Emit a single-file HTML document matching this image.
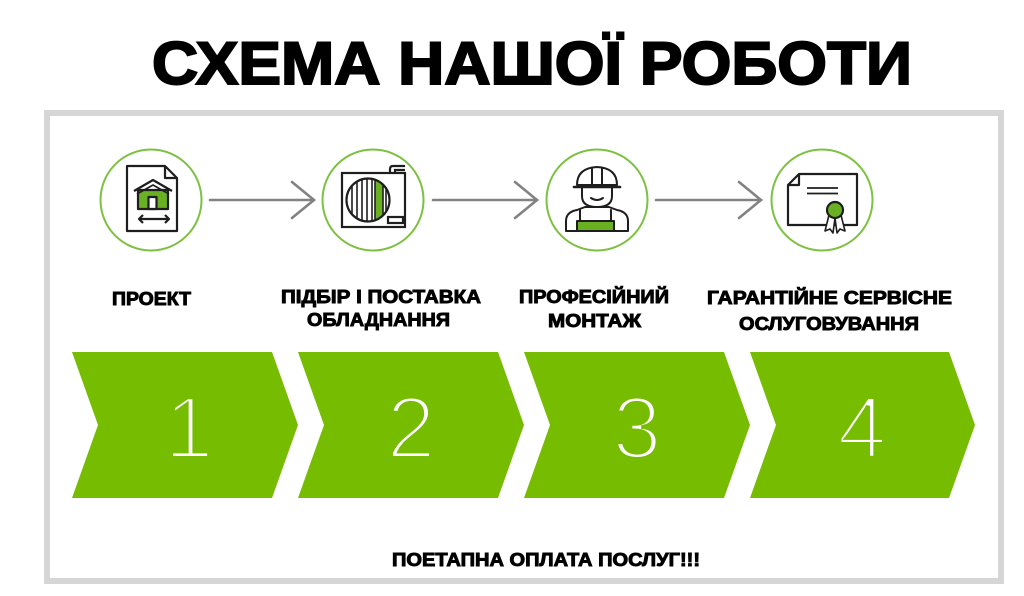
<!DOCTYPE html>
<html>
<head>
<meta charset="utf-8">
<style>
  html,body{margin:0;padding:0;background:#fff;}
  body{width:1024px;height:596px;overflow:hidden;}
  svg{display:block;}
  .t{font-family:"Liberation Sans","DejaVu Sans",sans-serif;font-weight:bold;fill:#000;}
</style>
</head>
<body>
<svg width="1024" height="596" viewBox="0 0 1024 596" xmlns="http://www.w3.org/2000/svg">
  <rect x="0" y="0" width="1024" height="596" fill="#fff"/>

  <!-- Title -->
  <text class="t" x="152" y="84" font-size="60" textLength="760" lengthAdjust="spacingAndGlyphs" stroke="#000" stroke-width="2">СХЕМА НАШОЇ РОБОТИ</text>

  <!-- Frame -->
  <rect x="47" y="113" width="954" height="468" fill="none" stroke="#d6d6d6" stroke-width="6"/>

  <!-- Circles -->
  <g fill="#fff" stroke="#7cc142" stroke-width="2">
    <circle cx="151" cy="200" r="50.5"/>
    <circle cx="373" cy="200" r="50.5"/>
    <circle cx="597" cy="200" r="50.5"/>
    <circle cx="822" cy="200" r="50.5"/>
  </g>

  <!-- Arrows -->
  <g fill="none" stroke="#828282" stroke-width="2.6" stroke-linecap="round">
    <line x1="210" y1="200" x2="314" y2="200"/>
    <polyline points="292,182 314,200 292,218"/>
    <line x1="433" y1="200" x2="537" y2="200"/>
    <polyline points="515,182 537,200 515,218"/>
    <line x1="656" y1="200" x2="761" y2="200"/>
    <polyline points="739,182 761,200 739,218"/>
  </g>

  <!-- Icon 1: document with house -->
  <g stroke="#1e1e1e" stroke-width="2.2" fill="none" stroke-linejoin="round">
    <path d="M127,166 H165 L177,178 V231 H127 Z" fill="#fff"/>
    <path d="M165,166 V178 H177"/>
    <rect x="138" y="190" width="30" height="19" fill="#6ab023"/>
    <rect x="148.5" y="197" width="8" height="12" fill="#fff"/>
    <path d="M134,191 L153,180 L172,191"/>
    <path d="M137,194 L153,185 L169,194" stroke-width="1.6"/>
    <line x1="139" y1="219" x2="169" y2="219"/>
    <polyline points="143,215 139,219 143,223"/>
    <polyline points="165,215 169,219 165,223"/>
  </g>

  <!-- Icon 2: AC unit -->
  <defs>
    <clipPath id="fan"><circle cx="368" cy="200" r="21"/></clipPath>
  </defs>
  <g stroke="#1e1e1e" stroke-width="2.2" fill="none">
    <rect x="342" y="173" width="63" height="54" fill="#fff"/>
    <path d="M390,173 V169 Q390,166 393,166 H405"/>
    <path d="M395,173 V170 H405"/>
    <g clip-path="url(#fan)">
      <rect x="375" y="176" width="8" height="48" fill="#6ab023" stroke="none"/>
      <g stroke-width="1.6">
        <line x1="352" y1="176" x2="352" y2="224"/>
        <line x1="357" y1="176" x2="357" y2="224"/>
        <line x1="362" y1="176" x2="362" y2="224"/>
        <line x1="367" y1="176" x2="367" y2="224"/>
        <line x1="372" y1="176" x2="372" y2="224"/>
        <line x1="375" y1="176" x2="375" y2="224"/>
        <line x1="383" y1="176" x2="383" y2="224"/>
        <line x1="386" y1="176" x2="386" y2="224"/>
      </g>
    </g>
    <circle cx="368" cy="200" r="21.5"/>
    <rect x="388" y="217" width="15" height="6"/>
  </g>

  <!-- Icon 3: worker -->
  <g stroke="#1e1e1e" stroke-width="2" fill="none" stroke-linecap="round" stroke-linejoin="round">
    <path d="M566,231 V221 Q566,212 577,210 L585,207 H609 L617,210 Q628,212 628,221 V231 Z" fill="#fff"/>
    <rect x="577" y="221" width="37" height="10" fill="#6ab023"/>
    <line x1="580" y1="210" x2="580" y2="221"/>
    <line x1="611" y1="210" x2="611" y2="221"/>
    <path d="M582,187 V196 Q582,207 597,207 Q612,207 612,196 V187" fill="#fff"/>
    <path d="M591,198 Q597,202 603,198"/>
    <path d="M577,185 Q577,168 597,167 Q617,168 617,185 Z" fill="#fff"/>
    <line x1="574" y1="187" x2="620" y2="187" stroke-width="2.6"/>
    <line x1="592" y1="169" x2="592" y2="184"/>
    <line x1="602" y1="169" x2="602" y2="184"/>
  </g>

  <!-- Icon 4: certificate -->
  <g stroke="#1e1e1e" stroke-width="2.2" fill="none" stroke-linejoin="round">
    <path d="M799,174 H857 V225 H788 V185 Z" fill="#fff"/>
    <path d="M799,174 V185 H788"/>
    <line x1="807" y1="188" x2="838" y2="188" stroke-width="1.8"/>
    <line x1="807" y1="193.5" x2="838" y2="193.5" stroke-width="1.8"/>
    <path d="M829,215 L825,231 L830,229 L833,233 L835,218 L837,233 L840,229 L845,231 L841,215" fill="#fff" stroke-width="1.6"/>
    <circle cx="835" cy="210" r="8" fill="#6ab023"/>
  </g>

  <!-- Labels -->
  <g class="t" font-size="18" stroke="#000" stroke-width="0.9">
    <text x="112" y="305" textLength="79" lengthAdjust="spacingAndGlyphs">ПРОЕКТ</text>
    <text x="281" y="303" textLength="200" lengthAdjust="spacingAndGlyphs">ПІДБІР І ПОСТАВКА</text>
    <text x="307" y="326" textLength="143" lengthAdjust="spacingAndGlyphs">ОБЛАДНАННЯ</text>
    <text x="519" y="303" textLength="150" lengthAdjust="spacingAndGlyphs">ПРОФЕСІЙНИЙ</text>
    <text x="548" y="327" textLength="93" lengthAdjust="spacingAndGlyphs">МОНТАЖ</text>
    <text x="707" y="304" textLength="245" lengthAdjust="spacingAndGlyphs">ГАРАНТІЙНЕ СЕРВІСНЕ</text>
    <text x="739" y="330" textLength="180" lengthAdjust="spacingAndGlyphs">ОСЛУГОВУВАННЯ</text>
    <text x="392" y="566" textLength="308" lengthAdjust="spacingAndGlyphs">ПОЕТАПНА ОПЛАТА ПОСЛУГ!!!</text>
  </g>

  <!-- Chevrons -->
  <g fill="#76bc00">
    <polygon points="72,352 272,352 298,425 272,498 72,498 98,425"/>
    <polygon points="298,352 498,352 524,425 498,498 298,498 324,425"/>
    <polygon points="524,352 724,352 750,425 724,498 524,498 550,425"/>
    <polygon points="750,352 949,352 975,425 949,498 750,498 776,425"/>
  </g>

  <!-- Numbers -->
  <g font-family="Liberation Sans, DejaVu Sans, sans-serif" font-size="88" fill="#fff" stroke="#76bc00" stroke-width="4" text-anchor="middle">
    <text x="189" y="458">1</text>
    <text x="411" y="458">2</text>
    <text x="637" y="458">3</text>
    <text x="862" y="458">4</text>
  </g>
</svg>
</body>
</html>
